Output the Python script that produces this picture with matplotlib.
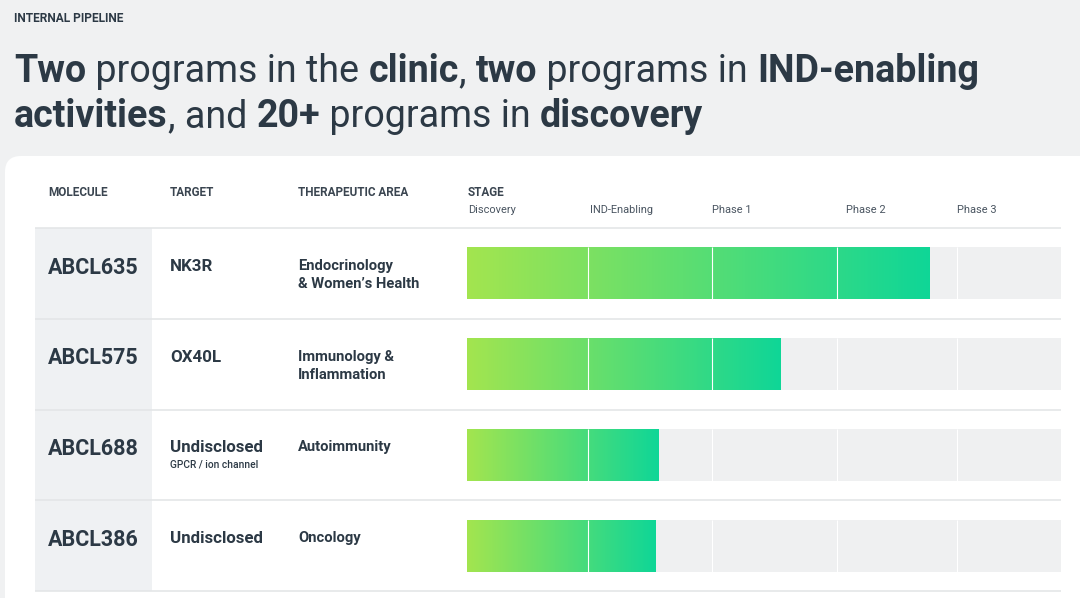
import numpy as np
import matplotlib
matplotlib.use("Agg")
import matplotlib.pyplot as plt
from matplotlib.patches import FancyBboxPatch, Rectangle
from matplotlib.colors import LinearSegmentedColormap

plt.rcParams['font.family'] = ['Roboto', 'DejaVu Sans']

# pipeline data
molecules = ["ABCL635", "ABCL575", "ABCL688", "ABCL386"]
targets = ["NK3R", "OX40L", "Undisclosed", "Undisclosed"]
target_notes = ["", "", "GPCR / ion channel", ""]
areas = [["Endocrinology", "& Women\u2019s Health"],
         ["Immunology &", "Inflammation"],
         ["Autoimmunity"],
         ["Oncology"]]
stages = ["Discovery", "IND-Enabling", "Phase 1", "Phase 2", "Phase 3"]
# stage boundaries and progress, as a fraction of the stage track
stage_edges = [0.204, 0.412, 0.623, 0.825]
progress = [0.778, 0.527, 0.323, 0.318]

title_lines = [
    [("Two", True), (" programs in the ", False), ("clinic", True), (", ", False),
     ("two", True), (" programs in ", False), ("IND-enabling", True)],
    [("activities", True), (", and ", False), ("20+", True),
     (" programs in ", False), ("discovery", True)],
]

# colours
page_bg = "#f0f1f2"
dark = "#2c3945"
head_col = "#3a4550"
line_col = "#e2e4e6"
track_col = "#eff0f1"
green_cmap = LinearSegmentedColormap.from_list("pipe", ["#a3e54f", "#0fd697"])

W, H = 1080, 598
fig = plt.figure(figsize=(W / 100, H / 100), dpi=100, facecolor=page_bg)
ax = fig.add_axes([0, 0, 1, 1])
ax.set_xlim(0, W)
ax.set_ylim(H, 0)
ax.axis("off")
renderer = fig.canvas.get_renderer()


def run_width(s, **kw):
    t = ax.text(0, 0, "|" + s + "|", **kw)
    w1 = t.get_window_extent(renderer).width
    t.remove()
    t = ax.text(0, 0, "||", **kw)
    w2 = t.get_window_extent(renderer).width
    t.remove()
    return w1 - w2


# header kicker + title
ax.text(14, 21.5, "INTERNAL PIPELINE", fontsize=8.6, fontweight="semibold",
        color=dark, va="baseline")

base_size = 32
line1_w = sum(run_width(s, fontsize=base_size,
                        fontweight="bold" if b else "normal")
              for s, b in title_lines[0])
title_size = base_size * 968 / line1_w
for runs, base_y in zip(title_lines, [82, 127]):
    x = 14
    for s, b in runs:
        kw = dict(fontsize=title_size, fontweight="bold" if b else "normal")
        ax.text(x, base_y, s, color=dark, va="baseline", **kw)
        x += run_width(s, **kw)

# white card
ax.add_patch(FancyBboxPatch((5, 156), 1200, 600,
                            boxstyle="round,pad=0,rounding_size=16",
                            fc="white", ec="none", zorder=0))

# table geometry
tbl_left, tbl_right = 35, 1061
tbl_top, tbl_bottom = 228, 591
row_h = (tbl_bottom - tbl_top) / len(molecules)
ax.add_patch(Rectangle((tbl_left, tbl_top), 117, tbl_bottom - tbl_top,
                       fc="#eff1f3", ec="none", zorder=1))
ax.hlines([tbl_top - 0.5] + [tbl_top + row_h * (i + 1) for i in range(len(molecules))],
          tbl_left, tbl_right, colors=line_col, lw=1.1, zorder=2)

# column headers
for label, x in zip(["MOLECULE", "TARGET", "THERAPEUTIC AREA", "STAGE"],
                    [48, 170, 298, 468]):
    ax.text(x, 196, label, fontsize=8.5, fontweight="semibold", color=head_col,
            va="baseline")
for label, x in zip(stages, [468, 590, 712, 846, 957]):
    ax.text(x, 213, label, fontsize=7.9, color="#4a5561", va="baseline")

# row texts
for i, mol in enumerate(molecules):
    top = tbl_top + row_h * i
    ax.text(48, top + 45.5, mol, fontsize=15.5, fontweight="bold", color=dark,
            va="baseline", zorder=3)
    ax.text(170, top + 43, targets[i], fontsize=12.2, fontweight="bold",
            color=dark, va="baseline", zorder=3)
    if target_notes[i]:
        ax.text(170, top + 58, target_notes[i], fontsize=7.4,
                fontweight="medium", color=dark, va="baseline", zorder=3)
    for j, line in enumerate(areas[i]):
        ax.text(298, top + 42 + 18 * j, line, fontsize=10.6, fontweight="bold",
                color=dark, va="baseline", zorder=3)

# stage bars
bar_ax = fig.add_axes([467 / W, (H - tbl_bottom) / H, (1061 - 467) / W,
                       (tbl_bottom - tbl_top) / H])
bar_ax.patch.set_alpha(0)
bar_ax.axis("off")
bar_h = 52 / row_h
ypos = np.arange(len(molecules))
bar_ax.barh(ypos, 1, height=bar_h, color=track_col, zorder=1)
bars = bar_ax.barh(ypos, progress, height=bar_h, color="none", zorder=2)
grad = np.linspace(0, 1, 256).reshape(1, -1)
for y, p, patch in zip(ypos, progress, bars):
    im = bar_ax.imshow(grad, cmap=green_cmap, aspect="auto",
                       extent=(0, p, y + bar_h / 2, y - bar_h / 2),
                       interpolation="bicubic", zorder=2)
    im.set_clip_path(patch)
    bar_ax.vlines(stage_edges, y - bar_h / 2, y + bar_h / 2, colors="white",
                  lw=0.8, zorder=3)
bar_ax.set_xlim(0, 1)
bar_ax.set_ylim(len(molecules) - 0.5, -0.5)

fig.savefig("out.png", dpi=100, facecolor=page_bg)
